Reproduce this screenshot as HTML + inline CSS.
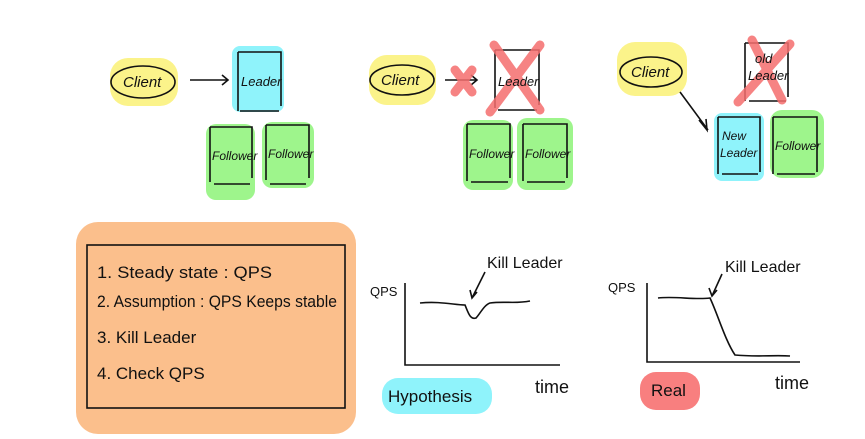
<!DOCTYPE html>
<html><head><meta charset="utf-8"><style>
html,body{margin:0;padding:0;background:#fff;}
svg{display:block}
text{font-family:"Liberation Sans",sans-serif;fill:#111}
</style></head><body>
<svg width="865" height="439" viewBox="0 0 865 439" xmlns="http://www.w3.org/2000/svg">
<g stroke="none">
<rect x="110" y="58" width="68" height="48" rx="18" fill="#fbf38a"/>
<rect x="232" y="46" width="52" height="66" rx="8" fill="#8ff3fb"/>
<rect x="206" y="124" width="49" height="76" rx="10" fill="#9ef58c"/>
<rect x="262" y="122" width="52" height="66" rx="10" fill="#9ef58c"/>
<rect x="369" y="55" width="67" height="50" rx="18" fill="#fbf38a"/>
<rect x="463" y="120" width="50" height="70" rx="10" fill="#9ef58c"/>
<rect x="517" y="118" width="56" height="72" rx="10" fill="#9ef58c"/>
<rect x="617" y="42" width="70" height="54" rx="18" fill="#fbf38a"/>
<rect x="714" y="113" width="50" height="68" rx="8" fill="#8ff3fb"/>
<rect x="770" y="110" width="54" height="68" rx="12" fill="#9ef58c"/>
<rect x="76" y="222" width="280" height="212" rx="22" fill="#fbbf8c"/>
<rect x="382" y="378" width="110" height="36" rx="16" fill="#8ff3fb"/>
<rect x="640" y="372" width="60" height="38" rx="16" fill="#f87f7f"/>
</g>
<g fill="none" stroke="#111" stroke-width="1.6">
<ellipse cx="143" cy="82" rx="32" ry="16"/>
<path d="M190 80H228M222 75l6 5-6 5"/>
<path d="M238 52V111M238 52H281V106M240 111H279"/>
<path d="M210 127V182M210 127H252V178M214 184H250"/>
<path d="M266 125V180M266 125H309V178M270 184H306"/>
<ellipse cx="402" cy="80" rx="32" ry="15"/>
<path d="M445 80H477M471 75l6 5-6 5"/>
<path d="M495 50V108M495 50H539V105M498 110H537"/>
<path d="M467 124V181M467 124H510V178M471 182H508"/>
<path d="M523 124V181M523 124H567V178M527 182H565"/>
<ellipse cx="651" cy="72" rx="31" ry="15"/>
<path d="M680 92L708 130M699 120l8 10-1-11"/>
<path d="M745 43V101M745 43H788V97M749 101H786"/>
<path d="M718 117V174M718 117H760V172M722 174H758"/>
<path d="M773 117V174M773 117H817V172M777 174H815"/>
<rect x="87" y="245" width="258" height="163"/>
<path d="M405 283V365H560"/>
<path d="M420 303C440 301 455 305 465 305C468 312 470 320 476 318C480 314 484 305 490 303C505 301 515 304 530 301"/>
<path d="M485 272L472 298M470 290l2 8 5-6"/>
<path d="M647 283V362H800"/>
<path d="M658 298C675 296 695 300 710 298C718 315 725 340 735 355C755 357 775 355 790 356"/>
<path d="M722 274L712 296M709 288l3 8 5-6"/>
</g>
<g stroke="#f56e6e" stroke-width="9" stroke-linecap="round" opacity="0.85">
<path d="M455 70L472 92M472 70L455 92"/>
<path d="M494 45L540 110M540 45L490 112"/>
<path d="M752 40L782 100M790 44L738 102"/>
</g>
<g font-size="15" font-style="italic">
<text x="123" y="87">Client</text>
<text x="241" y="86" font-size="13">Leader</text>
<text x="212" y="160" font-size="12">Follower</text>
<text x="268" y="158" font-size="12">Follower</text>
<text x="381" y="85">Client</text>
<text x="498" y="86" font-size="13">Leader</text>
<text x="469" y="158" font-size="12">Follower</text>
<text x="525" y="158" font-size="12">Follower</text>
<text x="631" y="77">Client</text>
<text x="755" y="63" font-size="13">old</text>
<text x="748" y="80" font-size="13">Leader</text>
<text x="722" y="140" font-size="12">New</text>
<text x="720" y="157" font-size="12">Leader</text>
<text x="775" y="150" font-size="12">Follower</text>
</g>
<g font-size="17">
<text x="97" y="278" textLength="175" lengthAdjust="spacingAndGlyphs">1. Steady state : QPS</text>
<text x="97" y="307" textLength="240" lengthAdjust="spacingAndGlyphs">2. Assumption : QPS Keeps stable</text>
<text x="97" y="343">3. Kill Leader</text>
<text x="97" y="379">4. Check QPS</text>
<text x="370" y="296" font-size="13">QPS</text>
<text x="487" y="268" font-size="16">Kill Leader</text>
<text x="388" y="402" font-size="17">Hypothesis</text>
<text x="535" y="393" font-size="18">time</text>
<text x="608" y="292" font-size="13">QPS</text>
<text x="725" y="272" font-size="16">Kill Leader</text>
<text x="651" y="396" font-size="17">Real</text>
<text x="775" y="389" font-size="18">time</text>
</g>
</svg>
</body></html>
